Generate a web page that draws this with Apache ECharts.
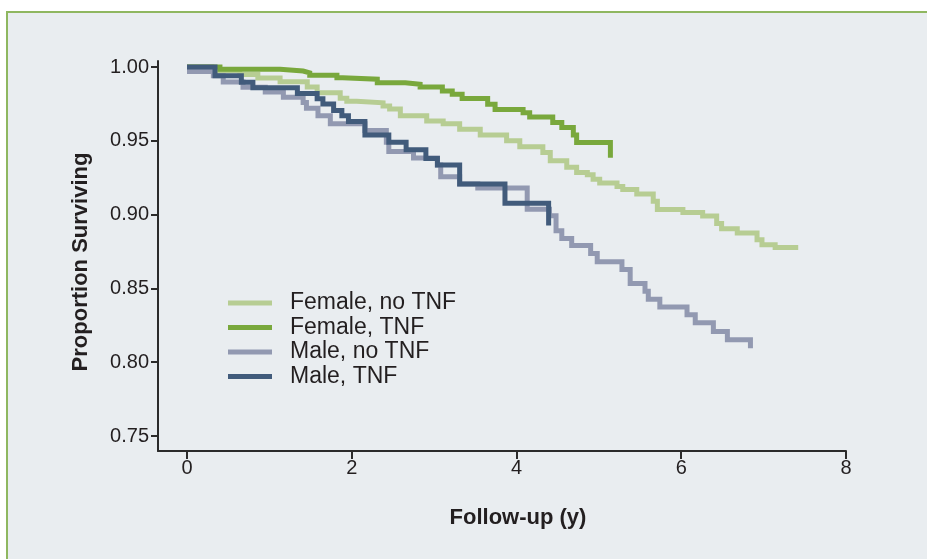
<!DOCTYPE html>
<html><head><meta charset="utf-8">
<script src="https://cdn.jsdelivr.net/npm/echarts@6/dist/echarts.min.js"></script>
<style>
html,body{margin:0;padding:0;background:#fff;overflow:hidden;width:927px;height:559px;}
#frame{position:absolute;left:6px;top:11px;width:960px;height:600px;background:#e9edf0;border-left:2px solid #8fb760;border-top:2px solid #8fb760;}
#chart{position:absolute;left:0;top:0;width:927px;height:559px;}
</style></head><body>
<div id="frame"></div><div id="chart"></div>
<script>
const seriesNames = ['Female, no TNF', 'Female, TNF', 'Male, no TNF', 'Male, TNF'];
const seriesColors = ['#b7cd93', '#79a83c', '#9299b1', '#415b7b'];
const xTicks = [0, 2, 4, 6, 8];
const yTicks = [0.75, 0.80, 0.85, 0.90, 0.95, 1.00];

const femaleNoTNF = [[0,1.000],[0.30,0.9975],[0.64,0.9950],[0.86,0.9926],[1.13,0.9900],[1.46,0.9865],[1.58,0.9826],[1.86,0.9788],[1.94,0.9768],[2.06,0.9757],[2.38,0.9736],[2.46,0.9716],[2.59,0.9669],[2.91,0.9635],[3.11,0.9615],[3.31,0.9579],[3.56,0.9540],[3.88,0.9500],[4.04,0.9460],[4.32,0.9420],[4.41,0.9365],[4.61,0.9320],[4.73,0.9286],[4.86,0.9270],[4.93,0.9240],[5.01,0.9214],[5.22,0.9190],[5.29,0.9170],[5.46,0.9140],[5.66,0.9090],[5.71,0.9035],[6.02,0.9015],[6.26,0.8990],[6.43,0.8940],[6.49,0.8905],[6.68,0.8875],[6.92,0.8830],[6.98,0.8795],[7.14,0.8777],[7.42,0.8777]];
const femaleTNF = [[0,1.000],[0.40,0.9985],[1.13,0.9973],[1.41,0.9960],[1.49,0.9944],[1.82,0.9928],[1.89,0.9917],[2.31,0.9894],[2.65,0.9883],[2.83,0.9865],[3.10,0.9838],[3.22,0.9815],[3.34,0.9786],[3.65,0.9748],[3.74,0.9712],[4.08,0.9690],[4.16,0.9662],[4.44,0.9624],[4.55,0.9590],[4.69,0.9540],[4.73,0.9489],[5.14,0.9385]];
const maleNoTNF = [[0,0.9970],[0.32,0.9940],[0.44,0.9899],[0.68,0.9863],[0.95,0.9830],[1.17,0.9795],[1.41,0.9760],[1.45,0.9720],[1.59,0.9670],[1.74,0.9615],[2.16,0.9570],[2.42,0.9490],[2.45,0.9428],[2.75,0.9383],[3.04,0.9336],[3.08,0.9257],[3.31,0.9207],[3.53,0.9180],[4.13,0.9037],[4.40,0.8993],[4.48,0.8890],[4.55,0.8838],[4.67,0.8790],[4.90,0.8736],[4.98,0.8680],[5.28,0.8628],[5.38,0.8534],[5.56,0.8480],[5.60,0.8426],[5.74,0.8374],[6.07,0.8322],[6.17,0.8268],[6.39,0.8208],[6.56,0.8152],[6.84,0.8095]];
const maleTNF = [[0,1.000],[0.34,0.9940],[0.66,0.9897],[0.80,0.9860],[1.34,0.9820],[1.58,0.9785],[1.65,0.9750],[1.78,0.9705],[1.88,0.9670],[1.96,0.9630],[2.16,0.9540],[2.45,0.9490],[2.66,0.9440],[2.90,0.9380],[3.04,0.9336],[3.31,0.9207],[3.86,0.9077],[4.39,0.8926]];

const seriesData = [femaleNoTNF, femaleTNF, maleNoTNF, maleTNF];
const FONT = "'Liberation Sans', Arial, Helvetica, sans-serif";
const TXT = '#231f20';

const chart = echarts.init(document.getElementById('chart'), null, {renderer: 'canvas'});
chart.setOption({
  animation: false,
  backgroundColor: 'transparent',
  grid: {left: 158, right: 81, top: 61, bottom: 108, containLabel: false},
  legend: {
    orient: 'vertical', left: 223, top: 286,
    data: seriesNames,
    icon: 'rect', itemWidth: 44, itemHeight: 5, itemGap: 0.5,
    selectedMode: false,
    textStyle: {fontFamily: FONT, fontSize: 23, color: TXT, lineHeight: 24, padding: [0, 0, 0, 13]}
  },
  xAxis: {
    type: 'value', min: -0.352, max: 8,
    name: 'Follow-up (y)', nameLocation: 'middle', nameGap: 56,
    nameTextStyle: {fontFamily: FONT, fontSize: 22, fontWeight: 'bold', color: TXT, padding: [0, 0, 0, 32]},
    axisLine: {show: true, onZero: false, lineStyle: {color: '#2b2b2b', width: 2}},
    axisTick: {show: true, customValues: xTicks, length: 8, lineStyle: {color: '#2b2b2b', width: 2}},
    axisLabel: {customValues: xTicks, margin: 7, fontFamily: FONT, fontSize: 20, color: TXT},
    splitLine: {show: false}
  },
  yAxis: {
    type: 'value', min: 0.73984, max: 1.00407,
    name: 'Proportion Surviving', nameLocation: 'middle', nameGap: 66, nameRotate: 90,
    nameTextStyle: {fontFamily: FONT, fontSize: 22, fontWeight: 'bold', color: TXT, padding: [0, 12, 0, 0]},
    axisLine: {show: true, onZero: false, lineStyle: {color: '#2b2b2b', width: 2}},
    axisTick: {show: true, customValues: yTicks, length: 7, lineStyle: {color: '#2b2b2b', width: 2}},
    axisLabel: {customValues: yTicks, margin: 9, fontFamily: FONT, fontSize: 20, color: TXT,
      formatter: v => v.toFixed(2)},
    splitLine: {show: false}
  },
  series: seriesNames.map((n, i) => ({
    name: n, type: 'line', step: 'end', data: seriesData[i],
    showSymbol: false, symbol: 'none', z: 2 + i,
    color: seriesColors[i],
    lineStyle: {color: seriesColors[i], width: 5, cap: 'butt', join: 'miter'},
    itemStyle: {color: seriesColors[i]}
  }))
});
</script>
</body></html>
